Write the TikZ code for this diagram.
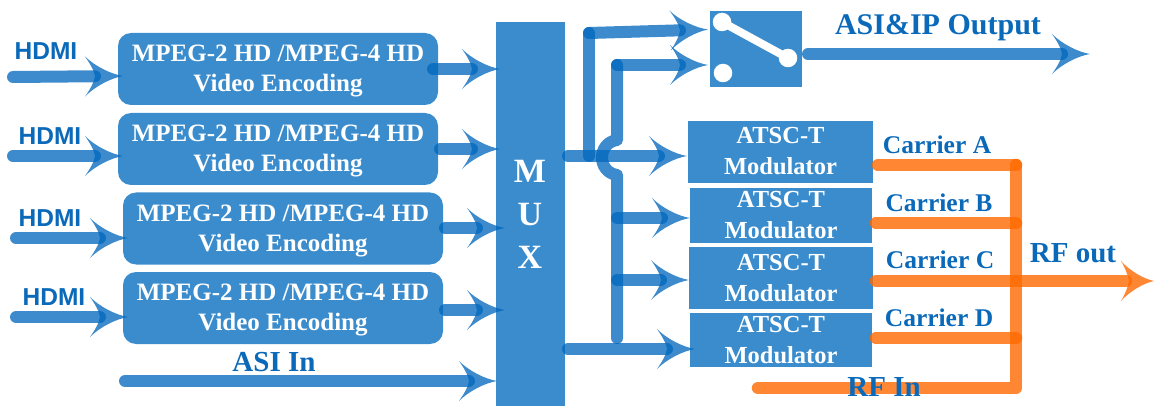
\documentclass[tikz,border=0pt]{standalone}
\usepackage{fontspec}
\setmainfont{Liberation Serif}
\newfontfamily\hdmifont{Liberation Sans}
\definecolor{boxblue}{RGB}{58,140,205}
\definecolor{lineblue}{RGB}{0,103,189}
\definecolor{lineorange}{RGB}{255,105,0}
\definecolor{textblue}{RGB}{10,105,185}
\pgfarrowsdeclare{swoop}{swoop}{\pgfarrowsleftextend{-10pt}\pgfarrowsrightextend{28pt}}{%
  \pgfpathmoveto{\pgfpoint{28pt}{0pt}}%
  \pgfpathcurveto{\pgfpoint{16pt}{2pt}}{\pgfpoint{0pt}{10pt}}{\pgfpoint{-10pt}{20pt}}%
  \pgfpathcurveto{\pgfpoint{-5pt}{13pt}}{\pgfpoint{-1pt}{6pt}}{\pgfpoint{0pt}{0pt}}%
  \pgfpathcurveto{\pgfpoint{-1pt}{-6pt}}{\pgfpoint{-5pt}{-13pt}}{\pgfpoint{-10pt}{-20pt}}%
  \pgfpathcurveto{\pgfpoint{0pt}{-10pt}}{\pgfpoint{16pt}{-2pt}}{\pgfpoint{28pt}{0pt}}%
  \pgfpathclose\pgfusepathqfill}
\pgfarrowsdeclare{swoopo}{swoopo}{\pgfarrowsleftextend{-5pt}\pgfarrowsrightextend{28pt}}{%
  \pgfpathmoveto{\pgfpoint{28pt}{0pt}}%
  \pgfpathcurveto{\pgfpoint{18pt}{2pt}}{\pgfpoint{4pt}{10pt}}{\pgfpoint{-5pt}{20pt}}%
  \pgfpathcurveto{\pgfpoint{-1pt}{13pt}}{\pgfpoint{2pt}{6pt}}{\pgfpoint{3pt}{0pt}}%
  \pgfpathcurveto{\pgfpoint{2pt}{-6pt}}{\pgfpoint{-1pt}{-13pt}}{\pgfpoint{-5pt}{-20pt}}%
  \pgfpathcurveto{\pgfpoint{4pt}{-10pt}}{\pgfpoint{18pt}{-2pt}}{\pgfpoint{28pt}{0pt}}%
  \pgfpathclose\pgfusepathqfill}
\newcommand\enctext{\rule{0pt}{21pt}MPEG-2 HD /MPEG-4 HD\\Video Encoding}
\tikzset{
  x=1pt,y=-1pt,
  enc/.style={draw=none,fill=boxblue,rounded corners=13pt,minimum width=320pt,minimum height=72pt,inner sep=0pt,
    text=white,align=center,font=\fontsize{25}{30}\selectfont\bfseries},
  mod/.style={draw=none,fill=boxblue,inner sep=0pt,text=white,align=center,font=\fontsize{24.5}{31}\selectfont\bfseries},
  plain/.style={draw=none,fill=boxblue,inner sep=0pt},
  hdmi/.style={inner sep=0pt,text=textblue,font=\fontsize{24.5}{28}\selectfont\hdmifont\bfseries},
  lab/.style={inner sep=0pt,text=textblue,font=\fontsize{25.5}{30}\selectfont\bfseries},
  labbig/.style={inner sep=0pt,text=textblue,font=\fontsize{29}{32}\selectfont\bfseries},
  labout/.style={inner sep=0pt,text=textblue,font=\fontsize{30}{32}\selectfont\bfseries},
  bl/.style={draw=lineblue,opacity=.76,line width=12pt,line cap=round,line join=round},
  blar/.style={bl,-swoop},
  or/.style={draw=lineorange,opacity=.8,line width=12.5pt,line cap=round,line join=round},
  orar/.style={or,-swoopo},
  contact/.style={circle,fill=white,draw=none,minimum size=18.5pt,inner sep=0pt},
}
\begin{document}
\begin{tikzpicture}
\useasboundingbox (0,0) rectangle (1154,406);
% boxes
\node[enc] (e1) at (278,69) {\enctext};
\node[enc] (e2) at (278,149) {\enctext};
\node[enc] (e3) at (283,228.5) {\enctext};
\node[enc] (e4) at (283,308) {\enctext};
\node[plain,minimum width=69pt,minimum height=384pt] (mux) at (530.5,214) {};
\node[inner sep=0pt,text=white,align=center,font=\fontsize{34}{43}\selectfont\bfseries] (muxt) at (530,214) {M\\U\\X};
\node[plain,minimum width=92pt,minimum height=76pt] (sw) at (756,49) {};
\node[mod,minimum width=185pt,minimum height=62pt] (m1) at (780.5,152) {ATSC-T\\Modulator\rule[-3pt]{0pt}{3pt}};
\node[mod,minimum width=182pt,minimum height=55pt] (m2) at (781,215.5) {ATSC-T\\Modulator};
\node[mod,minimum width=184pt,minimum height=62pt] (m3) at (781,278) {ATSC-T\\Modulator};
\node[mod,minimum width=182pt,minimum height=54pt] (m4) at (781,340) {ATSC-T\\Modulator};
% switch
\node[contact] (c1) at (722,22) {};
\node[contact] (c2) at (788,58) {};
\node[contact] (c3) at (723,73) {};
\draw[white,line width=8pt,line cap=round] (c1.center) -- (c2.center);
% labels
\node[hdmi] (h1) at (46,51) {HDMI};
\node[hdmi] (h2) at (50,136) {HDMI};
\node[hdmi] (h3) at (50,218) {HDMI};
\node[hdmi] (h4) at (54,297) {HDMI};
\node[labbig] (asi) at (274,362) {ASI In};
\node[labout] (asiout) at (938,28) {ASI\&IP Output};
\node[lab] (ca) at (937,145) {Carrier A};
\node[lab] (cb) at (939,203) {Carrier B};
\node[lab] (cc) at (940,260) {Carrier C};
\node[lab] (cd) at (939,318) {Carrier D};
\node[labbig] (rfo) at (1073,253) {RF out};
% free ends
\coordinate (s1) at (13,77); \coordinate (t1) at (123,76);
\coordinate (s2) at (13,156); \coordinate (t2) at (123,156);
\coordinate (s3) at (16,238); \coordinate (t3) at (128,238);
\coordinate (s4) at (16,317); \coordinate (t4) at (128,317);
\coordinate (o1) at (433,69); \coordinate (q1) at (500,69);
\coordinate (o2) at (440,149); \coordinate (q2) at (500,149);
\coordinate (o3) at (445,228); \coordinate (q3) at (505,228);
\coordinate (o4) at (445,310); \coordinate (q4) at (505,310);
\coordinate (asis) at (125,381); \coordinate (asit) at (497,381);
\coordinate (mo) at (568,156); \coordinate (mt1) at (687,156);
\coordinate (b1) at (589,156); \coordinate (b1t) at (589,33); \coordinate (sw1) at (708,29.5);
\coordinate (b2t) at (617,65); \coordinate (sw2) at (708,65);
\coordinate (b2a) at (617,140); \coordinate (b2b) at (617,175); \coordinate (b2e) at (617,338);
\coordinate (b2m2) at (617,218); \coordinate (mt2) at (690,218);
\coordinate (b2m3) at (617,280); \coordinate (mt3) at (689,280);
\coordinate (mo4) at (568,349); \coordinate (mt4) at (695,349);
\coordinate (sws) at (808,54); \coordinate (swt) at (1090,54);
\coordinate (oa) at (878,165); \coordinate (ob) at (876,223); \coordinate (oc) at (876,281); \coordinate (od) at (876,338);
\coordinate (vt) at (1016,165); \coordinate (vb) at (1016,223); \coordinate (vc) at (1016,281); \coordinate (vd) at (1016,338); \coordinate (ve) at (1016,388);
\coordinate (rfs) at (758,388); \coordinate (rft) at (1154,279);
% blue connectors
\draw[blar] (s1) -- (t1);
\draw[blar] (s2) -- (t2);
\draw[blar] (s3) -- (t3);
\draw[blar] (s4) -- (t4);
\draw[blar] (o1) -- (q1);
\draw[blar] (o2) -- (q2);
\draw[blar] (o3) -- (q3);
\draw[blar] (o4) -- (q4);
\draw[blar] (asis) -- (asit);
\draw[blar] (mo) -- (mt1);
\draw[bl] (b1) -- (b1t);
\draw[blar] (b1t) -- (sw1);
\draw[bl] (b2t) -- (b2a) .. controls (597,143) and (597,172) .. (b2b) -- (b2e);
\draw[blar] (b2t) -- (sw2);
\draw[blar] (b2m2) -- (mt2);
\draw[blar] (b2m3) -- (mt3);
\draw[blar] (mo4) -- (mt4);
\draw[blar] (sws) -- (swt);
% orange connectors
\draw[or] (oa) -- (vt);
\draw[or] (ob) -- (vb);
\draw[orar] (oc) -- (rft |- oc);
\draw[or] (od) -- (vd);
\draw[or] (rfs) -- (ve) -- (vt);
\node[labbig] (rfi) at (884,387) {RF In};
\end{tikzpicture}
\end{document}
